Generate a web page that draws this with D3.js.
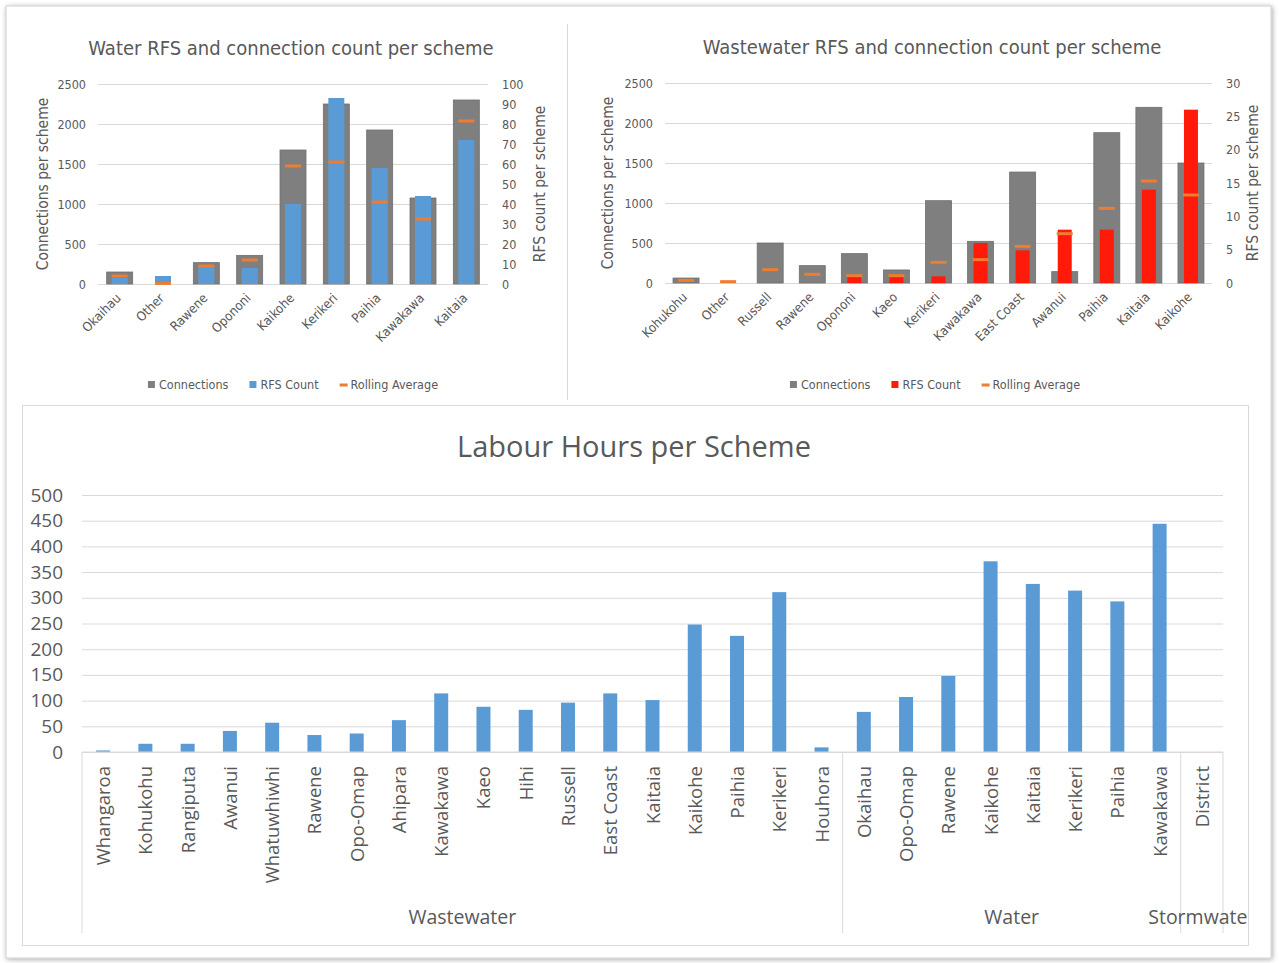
<!DOCTYPE html>
<html>
<head>
<meta charset="utf-8">
<script src="https://cdn.jsdelivr.net/npm/d3@7"></script>
<style>
  body { margin: 0; background: #fff; }
  svg text { fill: #595959; }
</style>
</head>
<body>
<div id="chart"></div>
<script>
// --- Water RFS chart ---
const waterSchemes = ['Okaihau', 'Other', 'Rawene', 'Opononi', 'Kaikohe', 'Kerikeri', 'Paihia', 'Kawakawa', 'Kaitaia'];
const waterConnections = [150, 0, 267, 358, 1675, 2250, 1925, 1075, 2300];
const waterRfs = [3, 4, 9, 8, 40, 93, 58, 44, 72];
const waterRolling = [4, 0.3, 9, 12, 59, 61, 41, 32.5, 81.5];

// --- Wastewater RFS chart ---
const wwSchemes = ['Kohukohu', 'Other', 'Russell', 'Rawene', 'Opononi', 'Kaeo', 'Kerikeri', 'Kawakawa', 'East Coast', 'Awanui', 'Paihia', 'Kaitaia', 'Kaikohe'];
const wwConnections = [62, 0, 500, 217, 367, 163, 1029, 521, 1387, 142, 1879, 2196, 1500];
const wwRfs = [0, 0, 0, 0, 1, 1, 1, 6, 4.9, 8, 8, 14, 26];
const wwRolling = [0.4, 0.2, 2, 1.3, 1.1, 1.1, 3.1, 3.5, 5.5, 7.4, 11.2, 15.3, 13.2];

// --- Labour hours ---
const labourWastewaterSchemes = ['Whangaroa', 'Kohukohu', 'Rangiputa', 'Awanui', 'Whatuwhiwhi', 'Rawene', 'Opo-Omap', 'Ahipara', 'Kawakawa', 'Kaeo', 'Hihi', 'Russell', 'East Coast', 'Kaitaia', 'Kaikohe', 'Paihia', 'Kerikeri', 'Houhora'];
const labourWastewaterHours = [3, 16, 16, 41, 57, 33, 36, 62, 114, 88, 82, 96, 114, 101, 248, 226, 311, 9];
const labourWaterSchemes = ['Okaihau', 'Opo-Omap', 'Rawene', 'Kaikohe', 'Kaitaia', 'Kerikeri', 'Paihia', 'Kawakawa'];
const labourWaterHours = [78, 107, 148, 371, 327, 314, 293, 444];
const labourStormwaterSchemes = ['District'];
const labourStormwaterHours = [0];
const labourTicks = [0, 50, 100, 150, 200, 250, 300, 350, 400, 450, 500];

const narrow = "'Liberation Sans Narrow', 'DejaVu Sans Condensed', 'Open Sans', sans-serif";
const sans = "'Open Sans', 'Noto Sans', sans-serif";

const svg = d3.select('#chart')
    .append('svg')
        .attr('width', 1279)
        .attr('height', 963);

const defs = svg.append('defs');
const shadow = defs.append('filter').attr('id', 'shadow')
    .attr('x', '-2%').attr('y', '-2%').attr('width', '104%').attr('height', '104%');
shadow.append('feGaussianBlur').attr('in', 'SourceAlpha').attr('stdDeviation', 2.5);
shadow.append('feOffset').attr('dx', 1).attr('dy', 1).attr('result', 'b');
shadow.append('feFlood').attr('flood-color', '#000').attr('flood-opacity', 0.35);
shadow.append('feComposite').attr('in2', 'b').attr('operator', 'in');
const merge = shadow.append('feMerge');
merge.append('feMergeNode');
merge.append('feMergeNode').attr('in', 'SourceGraphic');

// page frame
svg.append('rect')
    .attr('x', 6).attr('y', 6).attr('width', 1265).attr('height', 952)
    .style('fill', '#fff').style('stroke', '#cfcfcf')
    .attr('filter', 'url(#shadow)');

// divider between the two top charts
svg.append('line')
    .attr('x1', 567.5).attr('x2', 567.5).attr('y1', 24).attr('y2', 400)
    .style('stroke', '#d9d9d9');

function comboChart(o) {
    const g = svg.append('g');
    const x = d3.scaleBand().domain(o.schemes).range([o.left, o.right]);
    const yL = d3.scaleLinear().domain([0, 2500]).range([o.bottom, o.top]);
    const yR = d3.scaleLinear().domain([0, o.rfsMax]).range([o.bottom, o.top]);

    const axL = g.append('g')
        .attr('transform', `translate(${o.left},0)`)
        .call(d3.axisLeft(yL).tickValues(d3.range(0, 2501, 500)).tickFormat(d3.format('d'))
            .tickSize(-(o.right - o.left)).tickPadding(12));
    axL.select('.domain').remove();
    axL.selectAll('line').style('stroke', '#d9d9d9');
    axL.selectAll('text').style('font-family', narrow).style('font-size', '12.5px');

    const axR = g.append('g')
        .attr('transform', `translate(${o.right},0)`)
        .call(d3.axisRight(yR).tickValues(d3.range(0, o.rfsMax + 1, o.rfsStep)).tickSize(0).tickPadding(14));
    axR.select('.domain').remove();
    axR.selectAll('text').style('font-family', narrow).style('font-size', '12.5px');

    const cx = d => x(d) + x.bandwidth() / 2;

    g.selectAll('.conn')
        .data(o.schemes)
        .enter()
        .append('rect')
            .attr('x', d => cx(d) - 13)
            .attr('width', 26)
            .attr('y', (d, i) => yL(o.connections[i]))
            .attr('height', (d, i) => o.bottom - yL(o.connections[i]))
            .style('fill', '#7f7f7f')
            .style('stroke', '#6f6f6f')
            .style('stroke-width', 0.8);

    g.selectAll('.rfs')
        .data(o.schemes)
        .enter()
        .append('rect')
            .attr('x', d => cx(d) - o.rfsWidth / 2)
            .attr('width', o.rfsWidth)
            .attr('y', (d, i) => yR(o.rfs[i]))
            .attr('height', (d, i) => o.bottom - yR(o.rfs[i]))
            .style('fill', o.rfsColor);

    g.selectAll('.avg')
        .data(o.schemes)
        .enter()
        .append('rect')
            .attr('x', d => cx(d) - 8)
            .attr('width', 16)
            .attr('y', (d, i) => yR(o.rolling[i]) - 1.5)
            .attr('height', 3)
            .style('fill', '#ed7d31');

    g.selectAll('.xl')
        .data(o.schemes)
        .enter()
        .append('text')
            .attr('transform', d => `translate(${cx(d) + 2},${o.bottom + 15}) rotate(-45)`)
            .attr('text-anchor', 'end')
            .style('font-family', narrow)
            .style('font-size', '13px')
            .text(d => d);

    g.append('text')
        .attr('x', o.titleX).attr('y', o.titleY)
        .attr('text-anchor', 'middle')
        .style('font-family', narrow)
        .style('font-size', '20px')
        .text(o.title);

    g.append('text')
        .attr('transform', `translate(${o.leftTitleX},${(o.top + o.bottom) / 2}) rotate(-90)`)
        .attr('text-anchor', 'middle')
        .style('font-family', narrow)
        .style('font-size', '15.5px')
        .text('Connections per scheme');

    g.append('text')
        .attr('transform', `translate(${o.rightTitleX},${(o.top + o.bottom) / 2}) rotate(-90)`)
        .attr('text-anchor', 'middle')
        .style('font-family', narrow)
        .style('font-size', '15.5px')
        .text('RFS count per scheme');

    // legend
    const leg = g.append('g');
    const items = [
        { label: 'Connections', color: '#7f7f7f', kind: 'box' },
        { label: 'RFS Count', color: o.rfsColor, kind: 'box' },
        { label: 'Rolling Average', color: '#ed7d31', kind: 'dash' }
    ];
    let lx = 0;
    items.forEach(it => {
        const ig = leg.append('g').attr('transform', `translate(${lx},0)`);
        if (it.kind === 'box') {
            ig.append('rect').attr('x', 0).attr('y', -4).attr('width', 7).attr('height', 7).style('fill', it.color);
        } else {
            ig.append('rect').attr('x', 0).attr('y', -1.5).attr('width', 8).attr('height', 3).style('fill', it.color);
        }
        const t = ig.append('text')
            .attr('x', 11).attr('y', 4)
            .style('font-family', narrow)
            .style('font-size', '12.5px')
            .text(it.label);
        lx += 11 + t.node().getComputedTextLength() + 21;
    });
    const total = lx - 21;
    leg.attr('transform', `translate(${o.legendX - total / 2},${o.legendY})`);
}

comboChart({
    schemes: waterSchemes, connections: waterConnections, rfs: waterRfs, rolling: waterRolling,
    left: 98, right: 488, top: 84, bottom: 284,
    rfsMax: 100, rfsStep: 10, rfsColor: '#5b9bd5', rfsWidth: 16,
    title: 'Water RFS and connection count per scheme', titleX: 291, titleY: 55,
    leftTitleX: 48, rightTitleX: 545, legendX: 293, legendY: 385
});

comboChart({
    schemes: wwSchemes, connections: wwConnections, rfs: wwRfs, rolling: wwRolling,
    left: 665, right: 1212, top: 83, bottom: 283,
    rfsMax: 30, rfsStep: 5, rfsColor: '#ff1a0a', rfsWidth: 14,
    title: 'Wastewater RFS and connection count per scheme', titleX: 932, titleY: 54,
    leftTitleX: 613, rightTitleX: 1258, legendX: 935, legendY: 385
});

// --- Labour Hours per Scheme ---
const labour = [];
labourWastewaterSchemes.forEach((s, i) => labour.push({ scheme: s, hours: labourWastewaterHours[i], group: 'Wastewater' }));
labourWaterSchemes.forEach((s, i) => labour.push({ scheme: s, hours: labourWaterHours[i], group: 'Water' }));
labourStormwaterSchemes.forEach((s, i) => labour.push({ scheme: s, hours: labourStormwaterHours[i], group: 'Stormwater' }));
const groups = ['Wastewater', 'Water', 'Stormwater'];

const box = { x: 22, y: 405, w: 1226, h: 540 };
defs.append('clipPath').attr('id', 'boxclip')
    .append('rect').attr('x', box.x).attr('y', box.y).attr('width', box.w).attr('height', box.h);

svg.append('rect')
    .attr('x', box.x + 0.5).attr('y', box.y + 0.5).attr('width', box.w).attr('height', box.h)
    .style('fill', '#fff').style('stroke', '#d9d9d9');

const bg = svg.append('g').attr('clip-path', 'url(#boxclip)');

const hx = d3.scaleBand().domain(d3.range(labour.length)).range([82, 1223]);
const hy = d3.scaleLinear().domain([0, 500]).range([752, 495]);

const hAxis = bg.append('g')
    .attr('transform', 'translate(82,0)')
    .call(d3.axisLeft(hy).tickValues(labourTicks).tickSize(-(1223 - 82)).tickPadding(19));
hAxis.select('.domain').remove();
hAxis.selectAll('line').style('stroke', '#d9d9d9');
hAxis.selectAll('text').style('font-family', sans).style('font-size', '19px');

bg.selectAll('.hbar')
    .data(labour)
    .enter()
    .append('rect')
        .attr('class', 'hbar')
        .attr('x', (d, i) => hx(i) + hx.bandwidth() / 2 - 7)
        .attr('width', 14)
        .attr('y', d => hy(d.hours))
        .attr('height', d => 752 - hy(d.hours))
        .style('fill', '#5b9bd5');

bg.selectAll('.hlabel')
    .data(labour)
    .enter()
    .append('text')
        .attr('transform', (d, i) => `translate(${hx(i) + hx.bandwidth() / 2 + 7},766) rotate(-90)`)
        .attr('text-anchor', 'end')
        .style('font-family', sans)
        .style('font-size', '18.5px')
        .text(d => d.scheme);

// group separators and labels
const bounds = [0];
groups.forEach(gname => bounds.push(bounds[bounds.length - 1] + labour.filter(d => d.group === gname).length));
bg.selectAll('.sep')
    .data(bounds)
    .enter()
    .append('line')
        .attr('x1', d => d < labour.length ? hx(d) : 1223)
        .attr('x2', d => d < labour.length ? hx(d) : 1223)
        .attr('y1', 752).attr('y2', 933)
        .style('stroke', '#d9d9d9');
bg.append('line')
    .attr('x1', 82).attr('x2', 1223).attr('y1', 752).attr('y2', 752)
    .style('stroke', '#d9d9d9');

bg.selectAll('.glabel')
    .data(groups)
    .enter()
    .append('text')
        .attr('x', (d, i) => {
            const a = hx(bounds[i]);
            const b = bounds[i + 1] < labour.length ? hx(bounds[i + 1]) : 1223;
            return (a + b) / 2;
        })
        .attr('y', 924)
        .attr('text-anchor', 'middle')
        .style('font-family', sans)
        .style('font-size', '19.5px')
        .text(d => d);

svg.append('text')
    .attr('x', 634).attr('y', 457)
    .attr('text-anchor', 'middle')
    .style('font-family', sans)
    .style('font-size', '29px')
    .text('Labour Hours per Scheme');
</script>
</body>
</html>
